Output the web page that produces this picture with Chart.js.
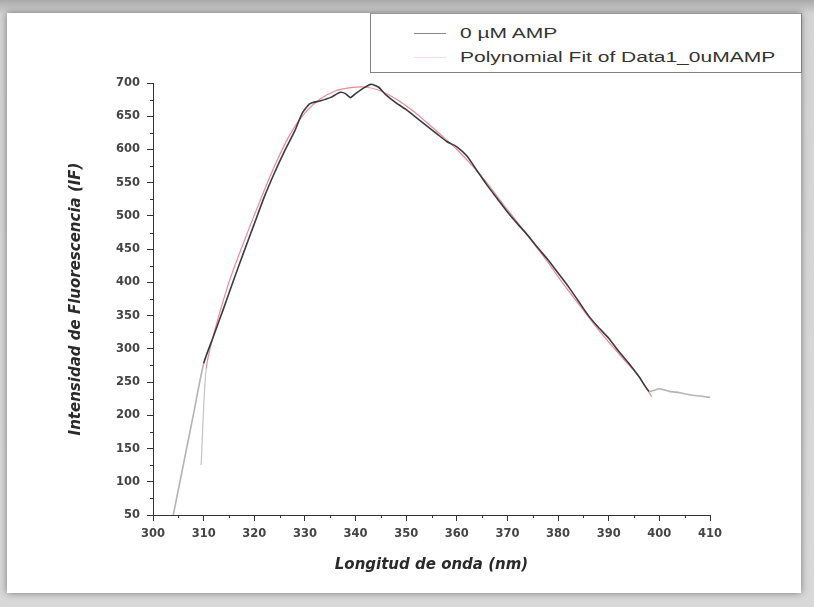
<!DOCTYPE html>
<html>
<head>
<meta charset="utf-8">
<script src="https://cdn.jsdelivr.net/npm/chart.js@4.4.1/dist/chart.umd.min.js"></script>
<style>
  html, body { margin: 0; padding: 0; }
  body {
    width: 814px; height: 607px; overflow: hidden; position: relative;
    background: linear-gradient(#a9a9a9, #d4d4d4 14px, #d8d8d8);
  }
  #card {
    position: absolute; left: 7px; top: 13px; width: 794px; height: 580px;
    background: #fff; box-shadow: 0 0 7px rgba(0,0,0,0.45);
  }
  #chart { position: absolute; left: 0; top: 0; }
  #legend {
    position: absolute; left: 370px; top: 13px; width: 430px; height: 58px;
    border: 1px solid #808080; border-top-color: #999; background: #fff;
    font-family: "Liberation Sans", Arial, sans-serif; font-size: 14px; color: #333;
  }
  .row { position: absolute; left: 0; height: 20px; width: 100%; }
  .row .swatch { position: absolute; left: 43px; top: 9px; width: 32px; height: 0; border-top: 1px solid; }
  .row .txt { position: absolute; left: 89px; top: 1px; white-space: nowrap; transform: scaleX(1.5); transform-origin: left center; }
</style>
</head>
<body>
<div id="card"></div>
<canvas id="chart" width="814" height="607"></canvas>
<div id="legend"></div>
<script>
// --- DATOS ---
const dataLabel = '0 \u00b5M AMP';
const fitLabel = 'Polynomial Fit of Data1_0uMAMP';

const waveX = [304, 306, 308, 310, 312, 314, 316, 318, 320, 322, 324, 326, 328, 329.5, 331, 333, 335, 337, 338, 339, 340, 341.5, 343, 344.5, 346, 348, 350, 352, 354, 356, 358, 360, 362, 364, 366, 368, 370, 372, 374, 376, 378, 380, 382, 384, 386, 388, 390, 392, 394, 396, 398, 400, 402, 404, 406, 408, 410];
const intensity = [50, 126, 202, 278, 320, 362, 405, 447, 488, 529, 565, 598, 628, 655, 669, 673, 678, 686, 684, 678, 684, 692, 698, 694, 682, 670, 660, 648, 636, 624, 612, 604, 590, 568, 546, 526, 506, 488, 471, 452, 434, 414, 394, 372, 350, 332, 316, 296, 278, 258, 236, 240, 236, 234, 231, 229, 227];

const fitX = [309.5, 310.5, 312, 315, 318, 321, 324, 327, 330, 333, 336, 339, 342, 345, 348, 351, 354, 357, 360, 363, 366, 369, 372, 375, 378, 381, 384, 387, 390, 393, 396, 398.5];
const fitY = [125, 270, 322, 400, 462, 520, 575, 622, 655, 676, 688, 693, 694, 688, 676, 660, 641, 621, 600, 576, 549, 519, 490, 460, 430, 398, 368, 338, 310, 284, 258, 228];

const xTicks = [300, 310, 320, 330, 340, 350, 360, 370, 380, 390, 400, 410];
const yTicks = [50, 100, 150, 200, 250, 300, 350, 400, 450, 500, 550, 600, 650, 700];

const toPts = (xs, ys) => xs.map((x, i) => ({ x: x, y: ys[i] }));

// --- TICKS MENORES ---
const minorTicks = {
  id: 'minorTicks',
  afterDraw(chart) {
    const { ctx, scales: { x, y } } = chart;
    ctx.save();
    ctx.strokeStyle = '#333';
    ctx.lineWidth = 1;
    ctx.beginPath();
    for (let v = xTicks[0] + 5; v < xTicks[xTicks.length - 1]; v += 10) {
      const px = Math.round(x.getPixelForValue(v)) + 0.5;
      ctx.moveTo(px, y.bottom); ctx.lineTo(px, y.bottom + 3);
    }
    for (let v = yTicks[0] + 25; v < yTicks[yTicks.length - 1]; v += 50) {
      const py = Math.round(y.getPixelForValue(v)) + 0.5;
      ctx.moveTo(x.left, py); ctx.lineTo(x.left - 3, py);
    }
    ctx.stroke();
    ctx.restore();
  }
};

const tickFont = { family: 'DejaVu Sans', size: 11.5, weight: 'bold' };
const titleFont = { family: 'DejaVu Sans', size: 15, weight: 'bold', style: 'italic' };

new Chart(document.getElementById('chart'), {
  type: 'line',
  data: {
    datasets: [
      {
        label: dataLabel,
        data: toPts(waveX, intensity),
        borderColor: '#3c3c3c',
        borderWidth: 1.6,
        pointRadius: 0,
        tension: 0.2,
        segment: {
          borderColor: c => (c.p0.parsed.x < 310 || c.p0.parsed.x >= 398) ? '#b4b4b4' : undefined
        }
      },
      {
        label: fitLabel,
        data: toPts(fitX, fitY),
        borderColor: 'rgba(215,40,70,0.55)',
        borderWidth: 1.2,
        pointRadius: 0,
        tension: 0.3,
        segment: {
          borderColor: c => c.p0.parsed.x < 310 ? '#c4c4c4' : undefined
        }
      }
    ]
  },
  options: {
    responsive: false,
    devicePixelRatio: 1,
    animation: false,
    layout: { padding: { left: 0, top: 83, right: 104, bottom: 0 } },
    plugins: { legend: { display: false }, tooltip: { enabled: false } },
    scales: {
      x: {
        type: 'linear', min: 300, max: 410,
        afterFit: s => { s.height = 92; },
        afterBuildTicks: s => { s.ticks = xTicks.map(v => ({ value: v })); },
        border: { display: true, color: '#333', width: 1 },
        grid: { drawOnChartArea: false, drawTicks: true, tickLength: 6, color: '#333' },
        ticks: { color: '#444', font: tickFont, padding: 6, maxRotation: 0 },
        title: { display: true, text: 'Longitud de onda (nm)', color: '#2a2a2a', font: titleFont, padding: { top: 33, bottom: 33 } }
      },
      y: {
        type: 'linear', min: 50, max: 700,
        afterFit: s => { s.width = 153; },
        afterBuildTicks: s => { s.ticks = yTicks.map(v => ({ value: v })); },
        border: { display: true, color: '#333', width: 1 },
        grid: { drawOnChartArea: false, drawTicks: true, tickLength: 6, color: '#333' },
        ticks: { color: '#444', font: tickFont, padding: 7 },
        title: { display: true, text: 'Intensidad de Fluorescencia (IF)', color: '#2a2a2a', font: titleFont, padding: { top: 67, bottom: 0 } }
      }
    }
  },
  plugins: [minorTicks]
});

// --- LEYENDA ---
const legend = document.getElementById('legend');
[[dataLabel, '#8a8a8a'], [fitLabel, 'rgba(215,40,70,0.15)']].forEach((item, i) => {
  const row = document.createElement('div');
  row.className = 'row';
  row.style.top = (10 + i * 24) + 'px';
  row.innerHTML = `<span class="swatch" style="border-color:${item[1]}"></span><span class="txt">${item[0]}</span>`;
  legend.appendChild(row);
});
</script>
</body>
</html>
